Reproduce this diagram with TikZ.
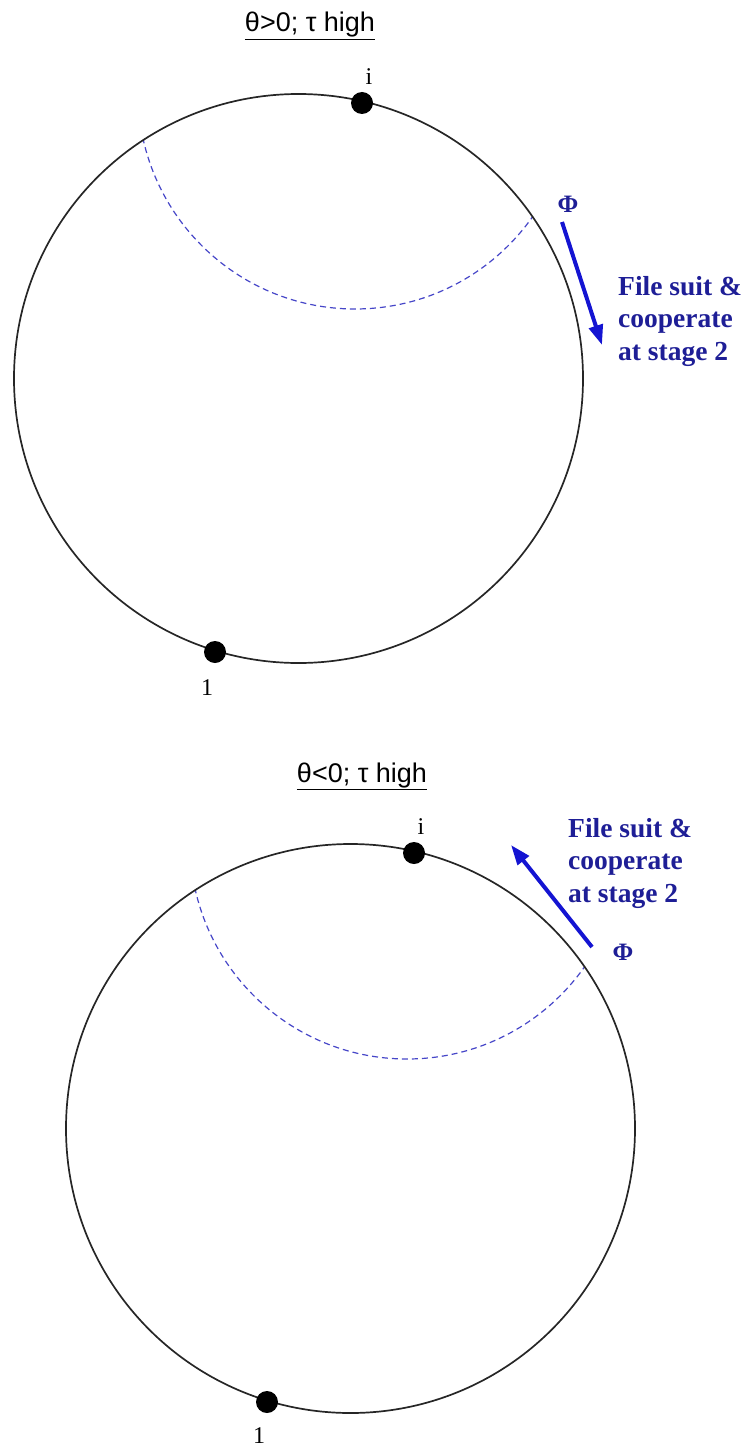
\documentclass[tikz,border=0pt]{standalone}
\usepackage{fontspec}
\setmainfont{Liberation Serif}
\newfontfamily\titlefont{Liberation Sans}
\usetikzlibrary{arrows.meta}
\definecolor{txtblue}{RGB}{30,30,150}
\definecolor{arrblue}{RGB}{20,20,210}
\definecolor{dashblue}{RGB}{70,70,200}
\tikzset{
  bigcirc/.style={draw=black!85, line width=1.7pt},
  dasharc/.style={draw=dashblue, line width=1.2pt, dash pattern=on 6pt off 4pt},
  dotnode/.style={circle, fill=black, minimum size=22pt, inner sep=0pt},
  ptlabel/.style={font=\fontsize{24}{26}\selectfont, inner sep=0pt},
  titlenode/.style={font=\titlefont\fontsize{27}{30}\selectfont, inner sep=0pt, anchor=base},
  phinode/.style={font=\bfseries\fontsize{25}{27}\selectfont, text=txtblue, inner sep=0pt},
  notenode/.style={font=\bfseries\fontsize{27.5}{32.5}\selectfont, text=txtblue, align=left, inner sep=0pt, anchor=base west},
  bluearrow/.style={draw=arrblue, line width=4pt, -{Triangle[length=20pt,width=14pt]}}
}
\begin{document}
\begin{tikzpicture}[x=1pt,y=-1pt]
\useasboundingbox (0,0) rectangle (751,1450);
% ---------- top diagram ----------
\node[titlenode] (t1) at (310,32) {\underline{θ>0; τ high}};
\begin{scope}
  \clip (298.5,378.5) circle[radius=284.5];
  \draw[dasharc] (355,92) circle[radius=217];
\end{scope}
\node[bigcirc, circle, minimum size=569pt, inner sep=0pt] (c1) at (298.5,378.5) {};
\node[dotnode] (i1) at (362,103) {};
\node[dotnode] (o1) at (215,652) {};
\node[ptlabel] (li1) at (369,77) {i};
\node[ptlabel] (lo1) at (207,688) {1};
\node[phinode] (phi1) at (568,204) {Φ};
\coordinate (a1s) at (562,222);
\coordinate (a1e) at (602,345);
\draw[bluearrow] (a1s) -- (a1e);
\node[notenode] (n1) at (618,360) {File suit \&\\cooperate\\at stage 2};
% ---------- bottom diagram ----------
\node[titlenode] (t2) at (362,782) {\underline{θ<0; τ high}};
\begin{scope}
  \clip (350.5,1128.5) circle[radius=284.5];
  \draw[dasharc] (407,842) circle[radius=217];
\end{scope}
\node[bigcirc, circle, minimum size=569pt, inner sep=0pt] (c2) at (350.5,1128.5) {};
\node[dotnode] (i2) at (414,853) {};
\node[dotnode] (o2) at (267,1402) {};
\node[ptlabel] (li2) at (421,827) {i};
\node[ptlabel] (lo2) at (259,1436) {1};
\node[phinode] (phi2) at (623,952) {Φ};
\coordinate (a2s) at (592,947);
\coordinate (a2e) at (511,845);
\draw[bluearrow] (a2s) -- (a2e);
\node[notenode] (n2) at (568,902) {File suit \&\\cooperate\\at stage 2};
\end{tikzpicture}
\end{document}
